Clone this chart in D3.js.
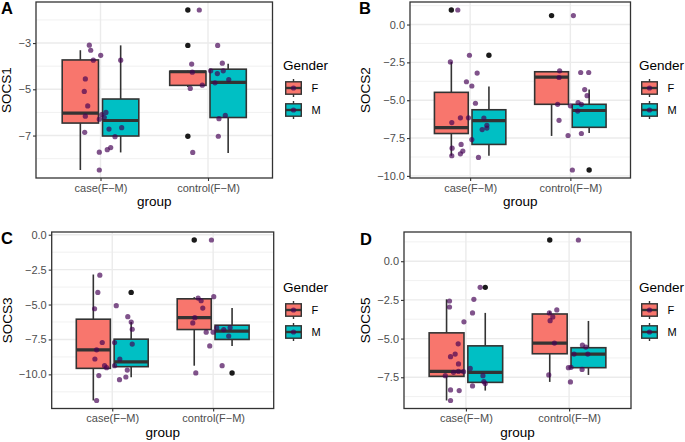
<!DOCTYPE html>
<html><head><meta charset="utf-8">
<script src="https://cdn.jsdelivr.net/npm/d3@7"></script>
<style>
html,body{margin:0;padding:0;background:#fff;}
svg{display:block;font-family:"Liberation Sans",Arial,Helvetica,sans-serif;}
</style></head>
<body><svg id="chart" width="685" height="442"></svg>
<script>
// ---------------- DATA ----------------
const groups = ["case(F\u2212M)", "control(F\u2212M)"];
const genders = ["F", "M"];
const genes = ["SOCS1", "SOCS2", "SOCS3", "SOCS5"];
const tags = ["A", "B", "C", "D"];
const genderColors = ["#F8766D", "#00BFC4"];

// box stats [lower whisker, Q1, median, Q3, upper whisker]; order caseF, caseM, controlF, controlM
const socs1Box = [[-8.49,-6.46,-6.03,-3.73,-3.31],[-7.73,-7.02,-6.35,-5.42,-3.10],[-4.90,-4.83,-4.24,-4.22,-4.20],[-7.75,-6.22,-4.70,-4.13,-3.89]];
const socs2Box = [[-8.67,-7.20,-6.81,-4.48,-2.47],[-8.67,-7.92,-6.35,-5.63,-4.09],[-7.36,-5.27,-3.47,-3.12,-3.08],[-7.16,-6.79,-5.68,-5.27,-4.30]];
const socs3Box = [[-11.87,-9.57,-8.24,-6.05,-2.85],[-10.21,-9.45,-9.10,-7.48,-6.25],[-9.38,-6.79,-5.94,-4.59,-4.47],[-7.96,-7.50,-6.91,-6.48,-5.25]];
const socs5Box = [[-9.00,-7.44,-7.12,-4.63,-2.46],[-8.36,-7.83,-7.18,-5.47,-3.34],[-7.80,-5.98,-5.29,-3.41,-3.24],[-7.35,-6.88,-6.00,-5.59,-3.86]];

// outliers [group index, gender index, value]
const socs1Out = [[1,0,-1.57],[1,0,-3.10],[1,0,-7.03]];
const socs2Out = [[0,0,0.96],[0,1,-2.03],[1,0,0.59],[1,1,-9.61]];
const socs3Out = [[0,1,-4.13],[1,0,-0.38],[1,1,-9.90]];
const socs5Out = [[0,1,-1.69],[1,0,1.37]];

// jittered points [group index, jitter (category units), value]
const socs1Pts = [
 [0,-0.104,-3.09],[0,-0.091,-3.31],[0,0.002,-3.53],[0,-0.067,-3.74],[0,-0.141,-4.55],[0,-0.151,-5.09],[0,-0.119,-5.72],
 [0,-0.141,-6.16],[0,-0.147,-6.86],[0,-0.011,-6.29],[0,0.011,-6.09],[0,0.051,-6.00],[0,0.035,-6.21],[0,0.079,-6.72],
 [0,0.135,-7.05],[0,0.197,-6.66],[0,0.188,-3.74],[0,-0.011,-7.72],[0,0.063,-7.61],[0,0.095,-7.52],[0,-0.011,-8.49],
 [1,-0.081,-1.57],[1,0.090,-3.10],[1,-0.152,-3.91],[1,0.133,-3.87],[1,-0.146,-4.26],[1,0.025,-4.20],[1,0.087,-4.32],
 [1,0.142,-4.20],[1,0.193,-4.58],[1,0.065,-4.72],[1,-0.053,-4.82],[1,-0.165,-4.96],[1,0.102,-6.27],[1,0.161,-6.13],
 [1,0.096,-7.03],[1,-0.142,-7.73]];
const socs2Pts = [
 [0,-0.123,0.96],[0,-0.197,-2.47],[0,-0.007,-2.03],[0,-0.037,-3.78],[0,0.017,-4.06],[0,0.070,-3.21],[0,0.053,-5.20],
 [0,-0.183,-6.48],[0,-0.097,-6.16],[0,-0.017,-6.16],[0,0.017,-7.60],[0,0.120,-6.94],[0,0.137,-6.18],[0,0.167,-6.66],
 [0,0.167,-6.84],[0,-0.090,-7.92],[0,-0.180,-8.17],[0,-0.183,-8.67],[0,-0.073,-8.36],[0,-0.097,-8.54],[0,0.083,-8.78],
 [1,0.030,0.59],[1,-0.107,-3.06],[1,-0.113,-3.50],[1,0.103,-3.17],[1,0.183,-3.17],[1,0.143,-4.30],[1,0.167,-4.70],
 [1,-0.127,-5.27],[1,0.000,-5.37],[1,0.077,-5.15],[1,0.110,-5.27],[1,0.073,-5.72],[1,-0.113,-6.33],[1,-0.023,-7.33],
 [1,0.110,-7.20],[1,0.020,-9.61]];
const socs3Pts = [
 [0,-0.123,-2.90],[0,-0.143,-4.13],[0,-0.175,-5.30],[0,0.040,-5.08],[0,0.154,-5.87],[0,0.188,-6.25],[0,0.198,-6.77],
 [0,-0.099,-7.72],[0,0.023,-7.72],[0,0.198,-7.83],[0,-0.155,-8.24],[0,-0.172,-8.90],[0,0.075,-8.90],[0,-0.076,-9.38],
 [0,-0.056,-9.52],[0,0.023,-9.38],[0,0.149,-9.69],[0,-0.133,-10.09],[0,0.072,-10.38],[0,0.135,-10.19],[0,-0.155,-11.87],
 [1,-0.017,-0.38],[1,-0.149,-4.54],[1,-0.119,-4.73],[1,0.006,-4.44],[1,-0.103,-5.25],[1,-0.182,-5.94],[1,-0.202,-6.32],
 [1,-0.069,-6.98],[1,0.000,-6.98],[1,0.036,-6.67],[1,0.105,-6.79],[1,0.168,-6.65],[1,0.154,-7.26],[1,-0.034,-7.96],
 [1,0.089,-9.38],[1,-0.172,-9.90]];
const socs5Pts = [
 [0,-0.159,-2.57],[0,-0.159,-2.96],[0,0.077,-2.46],[0,0.064,-3.34],[0,0.138,-1.69],[0,-0.019,-3.92],[0,-0.075,-5.34],
 [0,-0.104,-6.00],[0,-0.149,-6.17],[0,-0.072,-6.64],[0,-0.200,-7.40],[0,-0.120,-7.18],[0,-0.072,-7.12],[0,-0.023,-7.14],
 [0,0.042,-6.93],[0,0.165,-7.40],[0,0.174,-7.78],[0,0.187,-7.91],[0,0.064,-8.06],[0,-0.149,-8.32],[0,-0.065,-8.36],
 [0,-0.149,-9.00],
 [1,0.090,1.37],[1,-0.191,-3.34],[1,-0.119,-3.15],[1,-0.158,-3.60],[1,-0.184,-3.84],[1,-0.142,-5.29],[1,0.129,-5.42],
 [1,0.162,-5.55],[1,0.048,-6.00],[1,0.181,-6.00],[1,-0.007,-6.88],[1,0.019,-6.86],[1,0.126,-6.99],[1,-0.197,-7.35],
 [1,0.013,-7.80]];

// axis ticks
const socs1Ticks = [-3,-5,-7];
const socs1Minor = [-2,-4,-6,-8];
const socs2Ticks = [0,-2.5,-5,-7.5,-10];
const socs2Minor = [1.25,-1.25,-3.75,-6.25,-8.75];
const socs3Ticks = [0,-2.5,-5,-7.5,-10];
const socs3Minor = [-1.25,-3.75,-6.25,-8.75,-11.25];
const socs5Ticks = [0,-2.5,-5,-7.5];
const socs5Minor = [1.25,-1.25,-3.75,-6.25,-8.75];

// ---------------- LAYOUT ----------------
const panels = [
 {gene:genes[0], tag:tags[0], box:socs1Box, out:socs1Out, pts:socs1Pts, ticks:socs1Ticks, minor:socs1Minor, fmt:d3.format("d"),
  x0:36, x1:272.5, y0:2, y1:178, tagX:1, tagY:14, titleX:11, legX:283, legY:0},
 {gene:genes[1], tag:tags[1], box:socs2Box, out:socs2Out, pts:socs2Pts, ticks:socs2Ticks, minor:socs2Minor, fmt:d3.format(".1f"),
  x0:410, x1:630.5, y0:2, y1:178, tagX:359, tagY:14, titleX:369.5, legX:639, legY:0},
 {gene:genes[2], tag:tags[2], box:socs3Box, out:socs3Out, pts:socs3Pts, ticks:socs3Ticks, minor:socs3Minor, fmt:d3.format(".1f"),
  x0:51.7, x1:273.7, y0:232, y1:408.5, tagX:1, tagY:244, titleX:12, legX:283, legY:222},
 {gene:genes[3], tag:tags[3], box:socs5Box, out:socs5Out, pts:socs5Pts, ticks:socs5Ticks, minor:socs5Minor, fmt:d3.format(".1f"),
  x0:404, x1:631, y0:232, y1:408.5, tagX:360, tagY:245, titleX:369.5, legX:639, legY:222}
];

const svg = d3.select("#chart");
const minus = s => s.replace("-", "\u2212");
const ptColor = "#440154";
const dark = "#333333";
const boxW = 0.3375, dodge = 0.1875;

panels.forEach(p => {
  const allVals = p.pts.map(d => d[2]).concat(p.out.map(d => d[2])).concat(p.box.flat());
  const lo = d3.min(allVals), hi = d3.max(allVals), pad = (hi - lo) * 0.05;
  const y = d3.scaleLinear().domain([lo - pad, hi + pad]).range([p.y1, p.y0]);
  const x = d3.scaleLinear().domain([0.4, 2.6]).range([p.x0, p.x1]);
  const xc = gi => x(gi + 1);
  const g = svg.append("g");

  // grid
  g.selectAll(".minor").data(p.minor.filter(v => v > y.domain()[0] && v < y.domain()[1])).join("line")
    .attr("x1", p.x0).attr("x2", p.x1).attr("y1", d => y(d)).attr("y2", d => y(d))
    .attr("stroke", "#EBEBEB").attr("stroke-width", 0.7);
  g.selectAll(".major").data(p.ticks).join("line")
    .attr("x1", p.x0).attr("x2", p.x1).attr("y1", d => y(d)).attr("y2", d => y(d))
    .attr("stroke", "#EBEBEB").attr("stroke-width", 1.4);
  g.selectAll(".vmaj").data(groups).join("line")
    .attr("x1", (d, i) => xc(i)).attr("x2", (d, i) => xc(i)).attr("y1", p.y0).attr("y2", p.y1)
    .attr("stroke", "#EBEBEB").attr("stroke-width", 1.4);

  // boxplots
  const half = (x(boxW) - x(0)) / 2;
  p.box.forEach((s, k) => {
    const gi = Math.floor(k / 2), si = k % 2;
    const cx = x(gi + 1 + (si === 0 ? -dodge : dodge));
    const bg = g.append("g");
    bg.append("line").attr("x1", cx).attr("x2", cx).attr("y1", y(s[4])).attr("y2", y(s[3]))
      .attr("stroke", dark).attr("stroke-width", 1.6);
    bg.append("line").attr("x1", cx).attr("x2", cx).attr("y1", y(s[1])).attr("y2", y(s[0]))
      .attr("stroke", dark).attr("stroke-width", 1.6);
    bg.append("rect").attr("x", cx - half).attr("width", half * 2)
      .attr("y", y(s[3])).attr("height", Math.max(0.5, y(s[1]) - y(s[3])))
      .attr("fill", genderColors[si]).attr("stroke", dark).attr("stroke-width", 1.6);
    bg.append("line").attr("x1", cx - half).attr("x2", cx + half).attr("y1", y(s[2])).attr("y2", y(s[2]))
      .attr("stroke", dark).attr("stroke-width", 3.2);
  });
  // outliers
  g.selectAll(".out").data(p.out).join("circle")
    .attr("cx", d => x(d[0] + 1 + (d[1] === 0 ? -dodge : dodge)))
    .attr("cy", d => y(d[2])).attr("r", 2.7).attr("fill", "#1a1a1a");
  // jitter points
  g.selectAll(".pt").data(p.pts).join("circle")
    .attr("cx", d => x(d[0] + 1 + d[1])).attr("cy", d => y(d[2])).attr("r", 2.6)
    .attr("fill", ptColor).attr("fill-opacity", 0.68);

  // border
  g.append("rect").attr("x", p.x0).attr("y", p.y0).attr("width", p.x1 - p.x0).attr("height", p.y1 - p.y0)
    .attr("fill", "none").attr("stroke", dark).attr("stroke-width", 1.3);

  // y axis
  const yAxis = d3.axisLeft(y).tickValues(p.ticks).tickSize(3).tickPadding(2).tickFormat(d => minus(p.fmt(d)));
  const ya = g.append("g").attr("transform", `translate(${p.x0},0)`).call(yAxis);
  ya.select(".domain").remove();
  ya.selectAll(".tick line").attr("stroke", dark).attr("stroke-width", 1.1);
  ya.selectAll(".tick text").attr("fill", "#4D4D4D").style("font-size", "11px")
    .style("font-family", "'Liberation Sans',Arial,sans-serif");

  // x axis
  const xAxis = d3.axisBottom(d3.scalePoint().domain(groups).range([xc(0), xc(1)])).tickSize(3).tickPadding(3);
  const xa = g.append("g").attr("transform", `translate(0,${p.y1})`).call(xAxis);
  xa.select(".domain").remove();
  xa.selectAll(".tick line").attr("stroke", dark).attr("stroke-width", 1.1);
  xa.selectAll(".tick text").attr("fill", "#4D4D4D").style("font-size", "11px")
    .style("font-family", "'Liberation Sans',Arial,sans-serif");

  // axis titles
  g.append("text").attr("x", (p.x0 + p.x1) / 2).attr("y", p.y1 + 28).attr("text-anchor", "middle")
    .style("font-size", "13.5px").attr("fill", "#000").text("group");
  g.append("text").attr("transform", `translate(${p.titleX},${(p.y0 + p.y1) / 2}) rotate(-90)`)
    .attr("text-anchor", "middle").style("font-size", "13.5px").attr("fill", "#000").text(p.gene);

  // tag
  g.append("text").attr("x", p.tagX).attr("y", p.tagY).style("font-size", "16.5px").style("font-weight", "bold")
    .attr("fill", "#000").text(p.tag);

  // legend
  const lg = g.append("g").attr("transform", `translate(${p.legX},${p.legY})`);
  lg.append("text").attr("x", 0).attr("y", 69.5).style("font-size", "13.5px").attr("fill", "#000").text("Gender");
  genders.forEach((gn, k) => {
    const cy = 88 + k * 22, cx = 10.5;
    lg.append("line").attr("x1", cx).attr("x2", cx).attr("y1", cy - 9).attr("y2", cy + 9)
      .attr("stroke", dark).attr("stroke-width", 1.4);
    lg.append("rect").attr("x", cx - 7.8).attr("y", cy - 6.2).attr("width", 15.6).attr("height", 12.4)
      .attr("fill", genderColors[k]).attr("stroke", dark).attr("stroke-width", 1.4);
    lg.append("line").attr("x1", cx - 7.8).attr("x2", cx + 7.8).attr("y1", cy).attr("y2", cy)
      .attr("stroke", dark).attr("stroke-width", 2.4);
    lg.append("circle").attr("cx", cx).attr("cy", cy).attr("r", 2.6).attr("fill", ptColor).attr("fill-opacity", 0.68);
    lg.append("text").attr("x", 28.5).attr("y", cy).attr("dy", "0.36em").style("font-size", "11px")
      .attr("fill", "#000").text(gn);
  });
});
</script></body></html>
